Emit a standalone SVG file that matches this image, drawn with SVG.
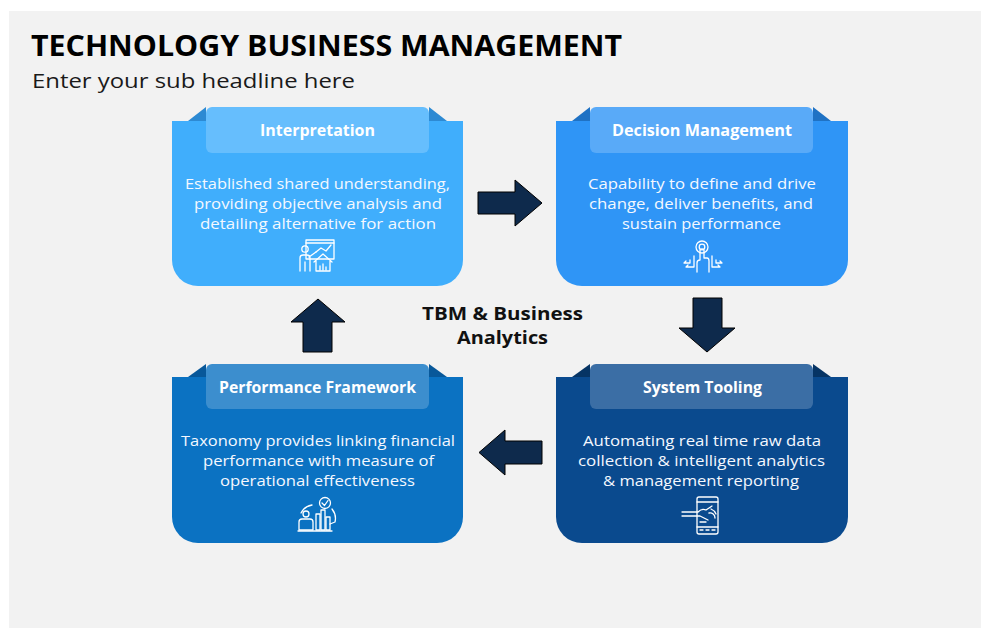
<svg xmlns="http://www.w3.org/2000/svg" width="981" height="630" viewBox="0 0 981 630">
<style>
.title{font-family:"Open Sans","Liberation Sans",sans-serif;font-weight:700;fill:#000}
.sub{font-family:"Open Sans","Liberation Sans",sans-serif;fill:#1a1a1a}
.hd{font-family:"Open Sans","Liberation Sans",sans-serif;font-weight:700;font-size:15.5px;fill:#fff;text-anchor:middle}
.tx{font-family:"Open Sans","Liberation Sans",sans-serif;font-size:14.2px;fill:#f4f8ff;text-anchor:middle}
.ctr{font-family:"Open Sans","Liberation Sans",sans-serif;font-weight:700;font-size:18px;fill:#111;text-anchor:middle}
.ic{fill:none;stroke:#fff;stroke-width:1.3;stroke-linecap:round;stroke-linejoin:round}
.arr{fill:#0e2a4c;stroke:#000;stroke-width:1}
</style>
<rect x="0" y="0" width="981" height="630" fill="#fff"/>
<rect x="9" y="11" width="972" height="617" fill="#f2f2f2"/>
<text class="title" x="31" y="56" font-size="28" textLength="591" lengthAdjust="spacingAndGlyphs">TECHNOLOGY BUSINESS MANAGEMENT</text>
<text class="sub" x="32" y="88" font-size="20" textLength="323" lengthAdjust="spacingAndGlyphs">Enter your sub headline here</text>

<g id="interpretation">
<polygon points="188,121 206,107 206,121" fill="#2d8ad3"/>
<polygon points="429,107 447,121 429,121" fill="#2d8ad3"/>
<path d="M172,121 H463 V260 A26,26 0 0 1 437,286 H198 A26,26 0 0 1 172,260 Z" fill="#40aefc"/>
<rect x="206" y="107" width="223" height="46" rx="6" fill="#66befd"/>
<text class="hd" x="317.5" y="136" textLength="115" lengthAdjust="spacingAndGlyphs">Interpretation</text>
<text class="tx" x="317.5" y="189" textLength="265" lengthAdjust="spacingAndGlyphs">Established shared understanding,</text>
<text class="tx" x="318" y="209" textLength="248" lengthAdjust="spacingAndGlyphs">providing objective analysis and</text>
<text class="tx" x="318" y="229" textLength="236" lengthAdjust="spacingAndGlyphs">detailing alternative for action</text>
<g class="ic">
<rect x="306" y="240" width="28" height="19"/>
<line x1="306" y1="243" x2="334" y2="243"/>
<polyline points="316,252 321,248 326,251 331,245"/>
<circle cx="305" cy="249" r="3.2"/>
<path d="M300,271 V258 Q300,255 303,255 H307 Q310,255 310,258 V271 M305,262 V271 M309,257 L316,252"/>
<path d="M314,262 L323,254 L332,262 M316,261 V271 H330 V261"/>
<path d="M320,270 V266 M323,270 V264 M326,270 V267"/>
</g>
</g>

<g id="decision-management">
<polygon points="572,121 590,107 590,121" fill="#1f72c4"/>
<polygon points="813,107 831,121 813,121" fill="#1f72c4"/>
<path d="M556,121 H848 V260 A26,26 0 0 1 822,286 H582 A26,26 0 0 1 556,260 Z" fill="#2f95f6"/>
<rect x="590" y="107" width="223" height="46" rx="6" fill="#59aaf8"/>
<text class="hd" x="702" y="136" textLength="180" lengthAdjust="spacingAndGlyphs">Decision Management</text>
<text class="tx" x="702" y="189" textLength="228" lengthAdjust="spacingAndGlyphs">Capability to define and drive</text>
<text class="tx" x="701" y="209" textLength="224" lengthAdjust="spacingAndGlyphs">change, deliver benefits, and</text>
<text class="tx" x="701.5" y="229" textLength="159" lengthAdjust="spacingAndGlyphs">sustain performance</text>
<g class="ic">
<circle cx="702" cy="247" r="6"/>
<circle cx="702" cy="247" r="2.8"/>
<path d="M697,272 V263 Q697,260 700,260 V250 Q702,248 704,250 V258 H707 Q709,258 709,261 V272"/>
<path d="M694,256 V267 H686 M690,260 V263 H684 M686,267 L688,265 M684,263 L686,261"/>
<path d="M712,256 V267 H720 M716,260 V263 H722 M720,267 L718,265 M722,263 L720,261"/>
</g>
</g>

<g id="performance-framework">
<polygon points="188,377 206,364 206,377" fill="#08589a"/>
<polygon points="429,364 447,377 429,377" fill="#08589a"/>
<path d="M172,377 H463 V517 A26,26 0 0 1 437,543 H198 A26,26 0 0 1 172,517 Z" fill="#0b72c2"/>
<rect x="206" y="364" width="223" height="45" rx="6" fill="#3c8ece"/>
<text class="hd" x="317.5" y="393" textLength="197" lengthAdjust="spacingAndGlyphs">Performance Framework</text>
<text class="tx" x="318" y="446" textLength="274" lengthAdjust="spacingAndGlyphs">Taxonomy provides linking financial</text>
<text class="tx" x="318.5" y="466" textLength="231" lengthAdjust="spacingAndGlyphs">performance with measure of</text>
<text class="tx" x="317.5" y="486" textLength="195" lengthAdjust="spacingAndGlyphs">operational effectiveness</text>
<g class="ic">
<circle cx="325" cy="503" r="5.5"/>
<polyline points="322,503 324.5,505.5 328,500.5"/>
<path d="M312,505 A15,15 0 0 0 301,513 M332,509 A15,15 0 0 1 335,522 L330,524"/>
<circle cx="306" cy="514" r="3"/>
<path d="M299,530 V522 Q299,519 302,519 H310 Q313,519 313,522 V530 Z"/>
<rect x="316" y="514" width="4" height="16"/>
<rect x="321" y="510" width="4" height="20"/>
<rect x="326" y="517" width="4" height="13"/>
<line x1="298" y1="531" x2="332" y2="531"/>
</g>
</g>

<g id="system-tooling">
<polygon points="572,377 590,364 590,377" fill="#063464"/>
<polygon points="813,364 831,377 813,377" fill="#063464"/>
<path d="M556,377 H848 V517 A26,26 0 0 1 822,543 H582 A26,26 0 0 1 556,517 Z" fill="#0a4a8e"/>
<rect x="590" y="364" width="223" height="45" rx="6" fill="#3b6ea5"/>
<text class="hd" x="702.5" y="393" textLength="119" lengthAdjust="spacingAndGlyphs">System Tooling</text>
<text class="tx" x="702" y="446" textLength="238" lengthAdjust="spacingAndGlyphs">Automating real time raw data</text>
<text class="tx" x="701.5" y="466" textLength="247" lengthAdjust="spacingAndGlyphs">collection &amp; intelligent analytics</text>
<text class="tx" x="701" y="486" textLength="196" lengthAdjust="spacingAndGlyphs">&amp; management reporting</text>
<g class="ic">
<rect x="697" y="497" width="21" height="37" rx="2"/>
<line x1="697" y1="502" x2="718" y2="502"/>
<line x1="697" y1="527" x2="718" y2="527"/>
<path d="M700,530 H703 M706,530 H709 M712,530 H715"/>
<path d="M682,512 H698 Q702,508 706,510 L712,506 M682,516 H700 L708,520"/>
<path d="M709,513 A5,5 0 0 1 715,518 M711,509 A9,9 0 0 1 716,514"/>
<path d="M700,522 H706"/>
</g>
</g>

<g id="connectors">
<polygon class="arr" points="478,192 515,192 515,180 542,203 515,226 515,214 478,214"/>
<polygon class="arr" points="693,298 722,298 722,328 735,328 707,352 679,328 693,328"/>
<polygon class="arr" points="542,441 505,441 505,430 479,452.5 505,475 505,464 542,464"/>
<polygon class="arr" points="303,352 332,352 332,322 345,322 318,299 291,322 303,322"/>
</g>

<g id="center-label">
<text class="ctr" x="502.5" y="320" textLength="161" lengthAdjust="spacingAndGlyphs">TBM &amp; Business</text>
<text class="ctr" x="502.5" y="344" textLength="91" lengthAdjust="spacingAndGlyphs">Analytics</text>
</g>
</svg>
